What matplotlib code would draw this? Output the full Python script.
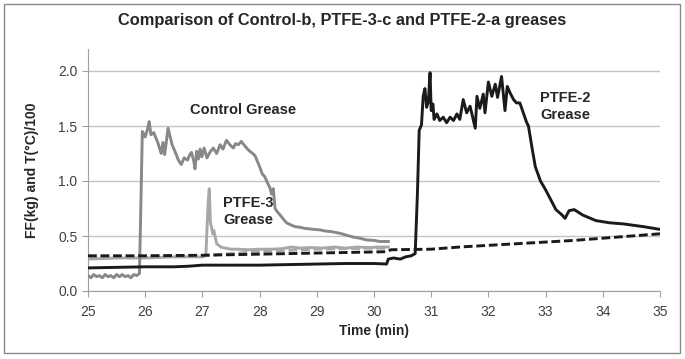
import matplotlib
matplotlib.use("Agg")
import matplotlib.pyplot as plt
from matplotlib.patches import Rectangle

plt.rcParams['font.family'] = ['Liberation Sans', 'DejaVu Sans']

# Control grease friction force
ctrl_t = [25.0, 25.05, 25.1, 25.15, 25.2, 25.25, 25.3, 25.35, 25.4, 25.45, 25.5, 25.55, 25.6, 25.65, 25.7, 25.75, 25.8, 25.85, 25.9,
          25.95, 26.0, 26.04, 26.07, 26.1, 26.15, 26.22, 26.28, 26.31, 26.34, 26.4, 26.47, 26.52, 26.58, 26.63, 26.68,
          26.74, 26.78, 26.81, 26.85, 26.87, 26.9, 26.93, 26.96, 26.99, 27.03, 27.08, 27.13, 27.19, 27.25, 27.31, 27.36,
          27.42, 27.48, 27.54, 27.58, 27.63, 27.68, 27.74, 27.79, 27.83, 27.88, 27.92, 28.0, 28.05, 28.09, 28.14, 28.18,
          28.21, 28.24, 28.27, 28.31, 28.36, 28.42, 28.47, 28.55, 28.62, 28.7, 28.78, 28.85, 28.95, 29.06, 29.15, 29.25,
          29.4, 29.5, 29.64, 29.75, 29.87, 30.0, 30.1, 30.25]
ctrl_ff = [0.14, 0.12, 0.15, 0.13, 0.14, 0.12, 0.15, 0.13, 0.14, 0.12, 0.15, 0.13, 0.15, 0.13, 0.14, 0.12, 0.15, 0.14, 0.16,
           1.45, 1.40, 1.47, 1.54, 1.42, 1.44, 1.35, 1.25, 1.35, 1.24, 1.48, 1.33, 1.27, 1.19, 1.15, 1.21,
           1.19, 1.24, 1.26, 1.18, 1.11, 1.27, 1.20, 1.29, 1.22, 1.30, 1.21, 1.26, 1.30, 1.25, 1.33, 1.29,
           1.37, 1.33, 1.30, 1.34, 1.33, 1.36, 1.32, 1.29, 1.27, 1.25, 1.23, 1.13, 1.06, 1.04, 0.98, 0.94,
           0.88, 0.93, 0.75, 0.72, 0.69, 0.65, 0.62, 0.60, 0.585, 0.58, 0.57, 0.566, 0.56, 0.555, 0.545, 0.54,
           0.525, 0.51, 0.49, 0.48, 0.464, 0.46, 0.45, 0.45]

# PTFE-3 grease friction force
p3_t = [25.0, 25.5, 26.0, 26.5, 27.0, 27.06, 27.1, 27.12, 27.14, 27.16, 27.18, 27.2, 27.25, 27.32, 27.4, 27.5,
        27.63, 27.8, 28.0, 28.2, 28.4, 28.55, 28.7, 28.9, 29.1, 29.3, 29.5, 29.7, 29.9, 30.1, 30.25]
p3_ff = [0.29, 0.30, 0.30, 0.31, 0.31, 0.32, 0.80, 0.93, 0.62, 0.58, 0.52, 0.55, 0.43, 0.40, 0.39, 0.38,
         0.38, 0.375, 0.38, 0.38, 0.385, 0.40, 0.39, 0.395, 0.39, 0.40, 0.39, 0.40, 0.395, 0.40, 0.40]

# PTFE-2 grease friction force
p2_t = [25.0, 25.5, 26.0, 26.5, 26.75, 27.0, 27.5, 28.0, 28.5, 29.0, 29.5, 30.0, 30.22, 30.25, 30.34, 30.46,
        30.55, 30.65, 30.72, 30.76, 30.79, 30.83, 30.86, 30.89, 30.92, 30.95, 30.98, 31.0, 31.03, 31.05,
        31.1, 31.15, 31.21, 31.27, 31.33, 31.39, 31.45, 31.5, 31.56, 31.62, 31.68, 31.77, 31.8, 31.85,
        31.91, 31.94, 32.0, 32.06, 32.12, 32.16, 32.23, 32.29, 32.33, 32.38, 32.44, 32.49, 32.55, 32.61,
        32.67, 32.7, 32.76, 32.82, 32.91, 33.0, 33.09, 33.18, 33.29, 33.34, 33.41, 33.5, 33.65, 33.88,
        34.12, 34.36, 34.71, 35.0]
p2_ff = [0.21, 0.215, 0.22, 0.22, 0.225, 0.235, 0.235, 0.235, 0.24, 0.245, 0.25, 0.25, 0.245, 0.29, 0.30, 0.29,
         0.31, 0.32, 0.34, 0.90, 1.46, 1.51, 1.77, 1.84, 1.67, 1.72, 1.985, 1.64, 1.70, 1.56,
         1.61, 1.55, 1.58, 1.53, 1.58, 1.55, 1.61, 1.56, 1.74, 1.62, 1.68, 1.48, 1.77, 1.66,
         1.79, 1.62, 1.90, 1.77, 1.88, 1.76, 1.95, 1.64, 1.86, 1.80, 1.74, 1.71, 1.71, 1.62,
         1.53, 1.50, 1.31, 1.13, 1.00, 0.92, 0.83, 0.74, 0.69, 0.66, 0.73, 0.74, 0.69, 0.64,
         0.62, 0.61, 0.585, 0.56]

# temperatures (T/100)
temp_t = [25.0, 26.0, 27.0, 28.0, 29.0, 30.2, 30.3, 31.0, 31.5, 32.0, 32.5, 33.0, 33.5, 34.0, 34.5, 35.0]
temp_v = [0.32, 0.32, 0.325, 0.335, 0.345, 0.357, 0.375, 0.38, 0.40, 0.415, 0.43, 0.445, 0.46, 0.48, 0.50, 0.52]
temp2_t = [25.0, 26.0, 27.0, 28.0, 29.0, 29.5, 30.0, 30.25]
temp2_v = [0.31, 0.315, 0.32, 0.36, 0.38, 0.385, 0.39, 0.39]

x_ticks = [25, 26, 27, 28, 29, 30, 31, 32, 33, 34, 35]
y_ticks = [0.0, 0.5, 1.0, 1.5, 2.0]

fig = plt.figure(figsize=(6.85, 3.59), dpi=100)
ax = fig.add_axes([88 / 685, 68 / 359, 572 / 685, 242 / 359])

ax.plot(p3_t, p3_ff, color='#a8a8a8', lw=2.1, zorder=3)
ax.plot(temp2_t, temp2_v, color='#a8a8a8', lw=2.1, dashes=(3, 1.3), zorder=3)
ax.plot(ctrl_t, ctrl_ff, color='#888888', lw=2.1, zorder=4)
ax.plot(p2_t, p2_ff, color='#1a1a1a', lw=2.1, zorder=5)
ax.plot(temp_t, temp_v, color='#1a1a1a', lw=2.1, dashes=(3, 1.3), zorder=6)

ax.set_xlim(25, 35)
ax.set_ylim(0, 2.2)
ax.set_xticks(x_ticks)
ax.set_yticks(y_ticks)
ax.set_yticklabels([f"{v:.1f}" for v in y_ticks])
ax.grid(axis='y', color='#c4c4c4', lw=1.0)
ax.set_axisbelow(True)
for s in ['top', 'right']:
    ax.spines[s].set_visible(False)
for s in ['left', 'bottom']:
    ax.spines[s].set_color('#a0a0a0')
ax.tick_params(colors='#a0a0a0', labelcolor='#404040', labelsize=10, length=4, direction='out')
ax.tick_params(axis='x', pad=6)

ax.set_xlabel('Time (min)', fontsize=10, fontweight='bold', color='#262626', labelpad=4)
ax.set_ylabel('FF(kg) and T(\u00b0C)/100', fontsize=10, fontweight='bold', color='#262626', labelpad=14)
fig.text(0.5, 0.944, 'Comparison of Control-b, PTFE-3-c and PTFE-2-a greases',
         ha='center', va='center', fontsize=11.8, fontweight='bold', color='#262626')

ax.text(27.71, 1.645, 'Control Grease', ha='center', va='center', fontsize=10.5, fontweight='bold', color='#262626')
ax.text(27.36, 0.72, 'PTFE-3\nGrease', ha='left', va='center', fontsize=10.5, fontweight='bold',
        color='#262626', linespacing=1.25)
ax.text(32.9, 1.68, 'PTFE-2\nGrease', ha='left', va='center', fontsize=10.5, fontweight='bold',
        color='#262626', linespacing=1.25)

fig.patches.append(Rectangle((4 / 685, 6 / 359), 676 / 685, 349 / 359, transform=fig.transFigure,
                             fill=False, edgecolor='#8a8a8a', lw=1.0))

fig.savefig('out.png', dpi=100)
